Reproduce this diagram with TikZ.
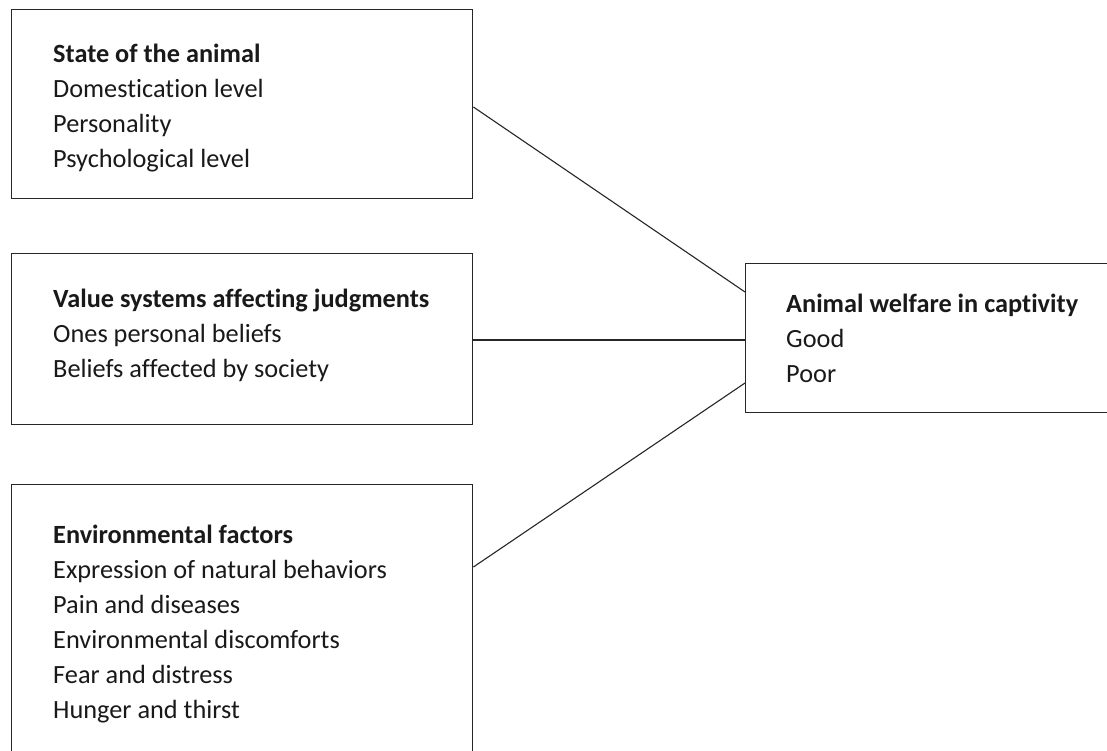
\documentclass[tikz,border=0pt]{standalone}
\usepackage{fontspec}
\setmainfont{Carlito}[Ligatures=NoCommon]
\begin{document}
\begin{tikzpicture}[x=1pt,y=-1pt,
  boxst/.style={draw=black!85, line width=1.4pt, rectangle, inner sep=0pt, anchor=north west},
  txt/.style={anchor=base west, inner sep=0pt, font=\fontsize{26.3}{30}\selectfont, text=black!90},
  hd/.style={txt, font=\fontsize{26.3}{30}\selectfont\bfseries},
  conn/.style={draw=black!85, line width=1.1pt}]
\useasboundingbox[fill=white] (0,0) rectangle (1107,751);
\clip (0,0) rectangle (1107,751);
% boxes
\node[boxst, minimum width=461pt, minimum height=189pt] (b1) at (11,9) {};
\node[boxst, minimum width=461pt, minimum height=171pt] (b2) at (11,253) {};
\node[boxst, minimum width=461pt, minimum height=300pt] (b3) at (11,484) {};
\node[boxst, minimum width=400pt, minimum height=149pt] (b4) at (745,263) {};
% connectors
\draw[conn] ([yshift=-98pt]b1.north east) -- ([yshift=-29pt]b4.north west);
\draw[conn] ([yshift=-87pt]b2.north east) -- ([yshift=-77pt]b4.north west);
\draw[conn] ([yshift=-83pt]b3.north east) -- ([yshift=-120pt]b4.north west);
% texts box 1
\node[hd] (t11) at (53,62.5) {State of the animal};
\node[txt] (t12) at (53,97.5) {Domestication level};
\node[txt] (t13) at (53,132.5) {Personality};
\node[txt] (t14) at (53,167.5) {Psychological level};
% box 2
\node[hd] (t21) at (53,307.5) {Value systems affecting judgments};
\node[txt] (t22) at (53,342.5) {Ones personal beliefs};
\node[txt] (t23) at (53,377.5) {Beliefs affected by society};
% box 3
\node[hd] (t31) at (53,543.5) {Environmental factors};
\node[txt] (t32) at (53,578.5) {Expression of natural behaviors};
\node[txt] (t33) at (53,613.5) {Pain and diseases};
\node[txt] (t34) at (53,648.5) {Environmental discomforts};
\node[txt] (t35) at (53,683.5) {Fear and distress};
\node[txt] (t36) at (53,718.5) {Hunger and thirst};
% box 4
\node[hd] (t41) at (786,312.5) {Animal welfare in captivity};
\node[txt] (t42) at (786,347.5) {Good};
\node[txt] (t43) at (786,382.5) {Poor};
\end{tikzpicture}
\end{document}
